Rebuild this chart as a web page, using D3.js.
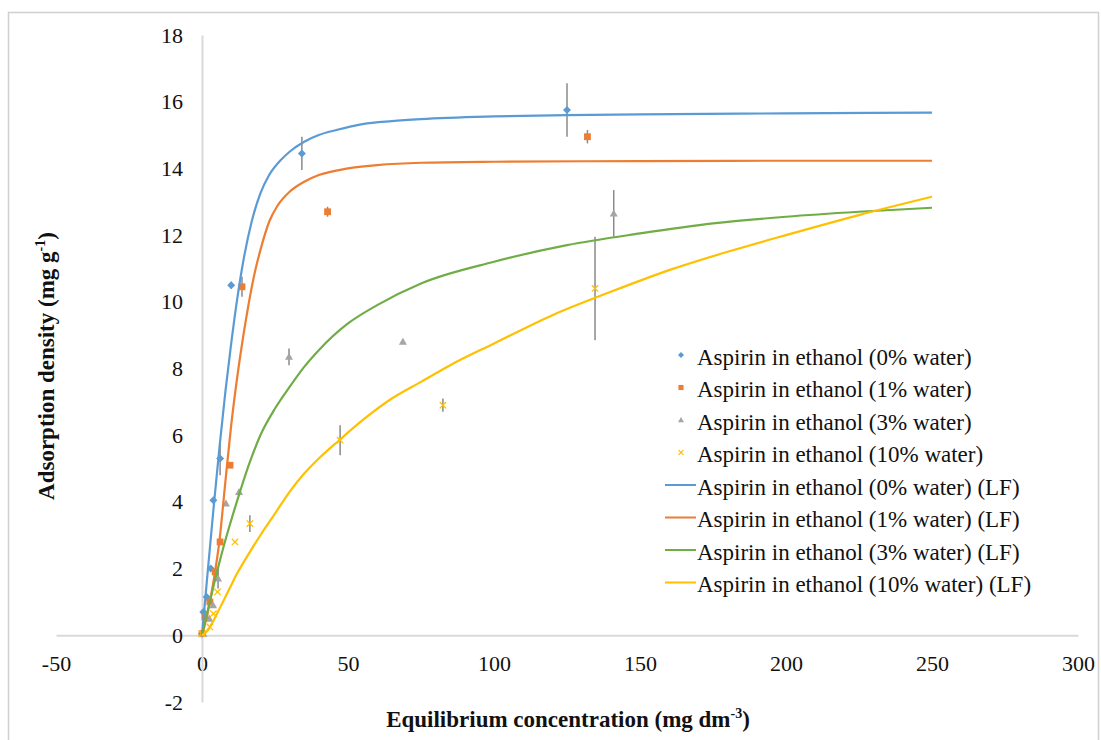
<!DOCTYPE html>
<html>
<head>
<meta charset="utf-8">
<script src="https://cdn.jsdelivr.net/npm/d3@7"></script>
<style>
  html, body { margin: 0; padding: 0; background: #fff; }
  svg { display: block; }
  text { font-family: "Liberation Serif", "Times New Roman", serif; fill: #111; }
</style>
</head>
<body>
<svg id="chart" width="1101" height="740"></svg>
<script>
// ---------- data ----------
const xTicks = [-50, 0, 50, 100, 150, 200, 250, 300];
const yTicks = [-2, 0, 2, 4, 6, 8, 10, 12, 14, 16, 18];

const legendLabels = [
  "Aspirin in ethanol (0% water)",
  "Aspirin in ethanol (1% water)",
  "Aspirin in ethanol (3% water)",
  "Aspirin in ethanol (10% water)",
  "Aspirin in ethanol (0% water) (LF)",
  "Aspirin in ethanol (1% water) (LF)",
  "Aspirin in ethanol (3% water) (LF)",
  "Aspirin in ethanol (10% water) (LF)"
];

// measured points: concentration, adsorption density, error (+/-)
const w0X   = [0, 0.45, 1.6, 3.0, 3.9, 6.2, 10.0, 34.2, 125];
const w0Y   = [0.05, 0.7, 1.15, 2.0, 4.05, 5.3, 10.5, 14.45, 15.75];
const w0Err = [0, 0, 0, 0, 0, 0.5, 0.1, 0.5, 0.8];

const w1X   = [0, 1.0, 2.7, 4.5, 6.2, 9.6, 13.7, 43.0, 132];
const w1Y   = [0.05, 0.55, 1.0, 1.9, 2.8, 5.1, 10.45, 12.7, 14.95];
const w1Err = [0, 0, 0, 0, 0, 0, 0.3, 0.15, 0.2];

const w3X   = [0.5, 2.5, 3.8, 5.5, 8.2, 12.7, 29.8, 68.8, 141];
const w3Y   = [0.05, 0.5, 0.9, 1.7, 3.95, 4.3, 8.35, 8.8, 12.65];
const w3Err = [0, 0, 0, 0.3, 0, 0, 0.25, 0, 0.7];

const w10X   = [0, 2.7, 3.9, 5.3, 11.3, 16.4, 47.3, 82.5, 134.6];
const w10Y   = [0.05, 0.25, 0.65, 1.3, 2.8, 3.35, 5.85, 6.9, 10.4];
const w10Err = [0, 0, 0, 0, 0, 0.25, 0.45, 0.2, 1.55];

// fitted (LF) curves
const lf0X = [0, 2, 4, 6, 8, 10, 12, 14, 17, 20, 23, 27, 30, 35, 40, 46, 55, 65, 75, 100, 125, 150, 200, 250];
const lf0Y = [0, 1.95, 3.85, 5.65, 7.3, 8.75, 10.05, 11.15, 12.4, 13.25, 13.8, 14.25, 14.5, 14.8, 15.0, 15.15, 15.33, 15.42, 15.48, 15.56, 15.6, 15.62, 15.65, 15.67];

const lf1X = [0, 2, 4, 6, 8, 10, 12, 14, 16, 18, 20, 23, 26, 30, 35, 40, 50, 60, 75, 100, 150, 200, 250];
const lf1Y = [0, 0.7, 1.65, 2.85, 4.6, 6.3, 7.7, 8.9, 9.95, 10.85, 11.55, 12.4, 12.9, 13.3, 13.6, 13.8, 14.0, 14.1, 14.17, 14.2, 14.22, 14.23, 14.23];

const lf3X = [0, 2, 4, 6, 8, 10, 13, 16, 20, 25, 30, 35, 40, 50, 60, 75, 100, 125, 150, 175, 200, 225, 250];
const lf3Y = [0, 0.75, 1.5, 2.2, 2.85, 3.45, 4.3, 5.1, 6.0, 6.8, 7.45, 8.05, 8.55, 9.35, 9.9, 10.55, 11.2, 11.7, 12.05, 12.35, 12.55, 12.7, 12.82];

const lf10X = [0, 2, 4, 6, 8, 10, 12, 15, 20, 25, 30, 35, 40, 47, 55, 65, 75, 85, 100, 120, 140, 160, 180, 200, 225, 250];
const lf10Y = [0, 0.15, 0.45, 0.8, 1.15, 1.5, 1.85, 2.3, 3.0, 3.65, 4.3, 4.85, 5.3, 5.85, 6.45, 7.1, 7.6, 8.1, 8.75, 9.6, 10.3, 10.95, 11.5, 12.0, 12.6, 13.15];

// ---------- styles ----------
const colors = { blue: "#5B9BD5", orange: "#ED7D31", gray: "#A5A5A5", yellow: "#FFC000", green: "#70AD47" };
const errColor = "#8a8a8a";
const axisColor = "#d9d9d9";

const scatterSeries = [
  { xs: w0X, ys: w0Y, es: w0Err, color: colors.blue, shape: "diamond" },
  { xs: w1X, ys: w1Y, es: w1Err, color: colors.orange, shape: "square" },
  { xs: w3X, ys: w3Y, es: w3Err, color: colors.gray, shape: "triangle" },
  { xs: w10X, ys: w10Y, es: w10Err, color: colors.yellow, shape: "cross" }
];
const fitSeries = [
  { xs: lf0X, ys: lf0Y, color: colors.blue },
  { xs: lf1X, ys: lf1Y, color: colors.orange },
  { xs: lf3X, ys: lf3Y, color: colors.green },
  { xs: lf10X, ys: lf10Y, color: colors.yellow }
];

// ---------- drawing ----------
const svg = d3.select("#chart");

svg.append("rect")
  .attr("x", 8.5).attr("y", 12.5).attr("width", 1090).attr("height", 740)
  .attr("fill", "none").attr("stroke", "#d0d0d0").attr("stroke-width", 1.5);

const x = d3.scaleLinear().domain([-50, 300]).range([56, 1078]);
const y = d3.scaleLinear().domain([-2, 18]).range([702, 35]);

// x axis at y = 0
const xAxis = svg.append("g")
  .attr("transform", `translate(0,${y(0)})`)
  .call(d3.axisBottom(x).tickValues(xTicks).tickSize(0).tickSizeOuter(0).tickPadding(20).tickFormat(d3.format("d")));
// y axis at x = 0
const yAxis = svg.append("g")
  .attr("transform", `translate(${x(0)},0)`)
  .call(d3.axisLeft(y).tickValues(yTicks).tickSize(0).tickSizeOuter(0).tickPadding(19).tickFormat(d3.format("d")));

[xAxis, yAxis].forEach(g => {
  g.select(".domain").attr("stroke", axisColor).attr("stroke-width", 2);
  g.selectAll("text")
    .attr("font-family", "'Liberation Serif', 'Times New Roman', serif")
    .attr("font-size", 22).attr("fill", "#111");
});
xAxis.selectAll("text").text(d => d < 0 ? "-" + Math.abs(d) : d);
yAxis.selectAll("text").text(d => d < 0 ? "-" + Math.abs(d) : d);

// axis titles
const xTitle = svg.append("text")
  .attr("x", 568).attr("y", 727)
  .attr("text-anchor", "middle").attr("font-weight", "bold").attr("font-size", 23);
xTitle.append("tspan").text("Equilibrium concentration (mg dm");
xTitle.append("tspan").attr("font-size", 14).attr("dy", -9).text("-3");
xTitle.append("tspan").attr("dy", 9).text(")");

const yTitle = svg.append("text")
  .attr("transform", "translate(54,366) rotate(-90)")
  .attr("text-anchor", "middle").attr("font-weight", "bold").attr("font-size", 23);
yTitle.append("tspan").text("Adsorption density (mg g");
yTitle.append("tspan").attr("font-size", 14).attr("dy", -9).text("-1");
yTitle.append("tspan").attr("dy", 9).text(")");

// marker helper
function marker(sel, shape, color, s) {
  if (shape === "diamond") {
    sel.append("path").attr("d", `M0,${-s}L${s},0L0,${s}L${-s},0Z`).attr("fill", color);
  } else if (shape === "square") {
    sel.append("rect").attr("x", -s * 0.85).attr("y", -s * 0.85).attr("width", s * 1.7).attr("height", s * 1.7).attr("fill", color);
  } else if (shape === "triangle") {
    sel.append("path").attr("d", `M0,${-s}L${s},${s * 0.75}L${-s},${s * 0.75}Z`).attr("fill", color);
  } else {
    const c = s * 0.8;
    sel.append("path").attr("d", `M${-c},${-c}L${c},${c}M${-c},${c}L${c},${-c}`)
      .attr("stroke", color).attr("stroke-width", 1.3).attr("fill", "none");
  }
}

// scatter series with error bars
scatterSeries.forEach(sr => {
  const pts = sr.xs.map((v, i) => ({ x: v, y: sr.ys[i], e: sr.es[i] }));
  const g = svg.append("g");
  g.selectAll("line.err").data(pts.filter(p => p.e > 0)).join("line")
    .attr("class", "err")
    .attr("x1", p => x(p.x)).attr("x2", p => x(p.x))
    .attr("y1", p => y(p.y - p.e)).attr("y2", p => y(p.y + p.e))
    .attr("stroke", errColor).attr("stroke-width", 1.5);
  g.selectAll("g.pt").data(pts).join("g")
    .attr("class", "pt")
    .attr("transform", p => `translate(${x(p.x)},${y(p.y)})`)
    .each(function () { marker(d3.select(this), sr.shape, sr.color, 4); });
});

// fitted curves
const line = d3.line().x(d => x(d[0])).y(d => y(d[1])).curve(d3.curveMonotoneX);
fitSeries.forEach(f => {
  svg.append("path")
    .datum(f.xs.map((v, i) => [v, f.ys[i]]))
    .attr("d", line)
    .attr("fill", "none").attr("stroke", f.color).attr("stroke-width", 2.2);
});

// legend
const legend = svg.append("g");
const legendY0 = 357, legendStep = 32.5;
legendLabels.forEach((lab, i) => {
  const ly = legendY0 + i * legendStep;
  const row = legend.append("g");
  if (i < 4) {
    const sr = scatterSeries[i];
    const m = row.append("g").attr("transform", `translate(681,${ly - 2})`);
    marker(m, sr.shape, sr.color, 3);
  } else {
    row.append("line").attr("x1", 665).attr("x2", 696).attr("y1", ly - 2).attr("y2", ly - 2)
      .attr("stroke", fitSeries[i - 4].color).attr("stroke-width", 2);
  }
  row.append("text").attr("x", 697).attr("y", ly).attr("dominant-baseline", "central")
    .attr("font-size", 23).text(lab);
});
</script>
</body>
</html>
